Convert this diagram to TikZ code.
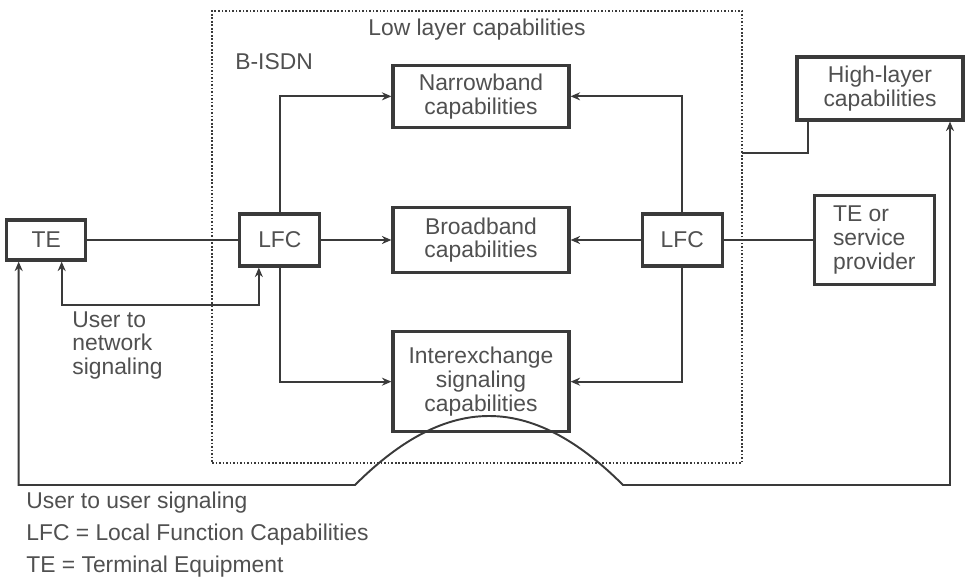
\documentclass[tikz,border=0pt]{standalone}
\usepackage{fontspec}
\setmainfont{Liberation Sans}
\usetikzlibrary{arrows.meta,positioning,calc}
\definecolor{Ink}{HTML}{3A3A3A}
\definecolor{Label}{HTML}{505050}
\tikzset{
  capbox/.style={draw=Ink,fill=white,line width=1.8pt,align=center,text=Label,inner sep=0pt},
  link/.style={draw=Ink,line width=1.1pt},
  feed/.style={link,-{Stealth[length=1.9mm,width=1.6mm]}},
  twoway/.style={link,{Stealth[length=1.9mm,width=1.6mm]}-{Stealth[length=1.9mm,width=1.6mm]}},
  layerbox/.style={draw=Ink,densely dotted,line width=1pt},
  caption/.style={text=Label,align=left,inner sep=0pt}
}
\begin{document}
\begin{tikzpicture}[font=\fontsize{13pt}{13.5pt}\selectfont]
        \useasboundingbox[fill=white] (0,0) rectangle (19.34,-11.58);
        \node[layerbox,minimum width=10.6cm,minimum height=9.04cm] (lowlayer) at (9.54,-4.74) {};
        \node[caption] (lowtitle) at (9.54,-0.6) {Low layer capabilities};
        \node[caption,anchor=west] (bisdn) at (4.7,-1.24) {B-ISDN};
        % capability boxes of the network
        \node[capbox,minimum width=3.52cm,minimum height=1.3cm] (broad) at (9.62,-4.8) {Broadband\\capabilities};
        \node[capbox,minimum width=3.52cm,minimum height=1.24cm,above=1.54cm of broad] (narrow) {Narrowband\\capabilities};
        \node[capbox,minimum width=3.52cm,minimum height=2cm,below=1.12cm of broad] (inter) {Interexchange\\signaling\\capabilities};
        \node[capbox,minimum width=1.6cm,minimum height=1.04cm,left=1.4cm of broad] (lfcL) {LFC};
        \node[capbox,minimum width=1.6cm,minimum height=1.04cm,right=1.4cm of broad] (lfcR) {LFC};
        \node[capbox,minimum width=1.58cm,minimum height=.8cm,left=3.02cm of lfcL] (te) {TE};
        \node[capbox,minimum width=2.4cm,minimum height=1.78cm,right=1.78cm of lfcR,align=left] (tesp) {TE or\\service\\provider};
        \node[capbox,minimum width=3.32cm,minimum height=1.26cm] (high) at (17.6,-1.77) {High-layer\\capabilities};
        \coordinate (hlstep) at (14.84,-3.06);
        \coordinate (dipL) at (7.1,-9.7);
        \coordinate (dipR) at (12.46,-9.7);
        % connectors
        \draw[link] (te) -- (lfcL);
        \draw[link] (lfcR) -- (tesp);
        \draw[feed] (lfcL) -- (broad);
        \draw[feed] (lfcR) -- (broad);
        \draw[feed] (lfcL.north) |- (narrow.west);
        \draw[feed] (lfcR.north) |- (narrow.east);
        \draw[feed] (lfcL.south) |- (inter.west);
        \draw[feed] (lfcR.south) |- (inter.east);
        \draw[link] ([xshift=-1.44cm]high.south) |- (hlstep);
        \draw[twoway] ([xshift=.31cm]te.south) -- ++(0,-.86) -| ([xshift=-.42cm]lfcL.south);
        \draw[twoway] ([xshift=-.55cm]te.south) |- (dipL)
          .. controls (7.9,-8.9) and (8.8,-8.32) .. (9.78,-8.32)
          .. controls (10.76,-8.32) and (11.66,-8.9) .. (dipR) -| ([xshift=1.4cm]high.south);
        % labels
        \node[caption,anchor=north west] (unlabel) at (1.44,-6.22) {User to\\network\\signaling};
        \node[caption,anchor=west] (legenduu) at (0.52,-10.06) {User to user signaling};
        \node[caption,anchor=west] (legendlfc) at (0.52,-10.7) {LFC = Local Function Capabilities};
        \node[caption,anchor=west] (legendte) at (0.52,-11.34) {TE = Terminal Equipment};
      \end{tikzpicture}
\end{document}
